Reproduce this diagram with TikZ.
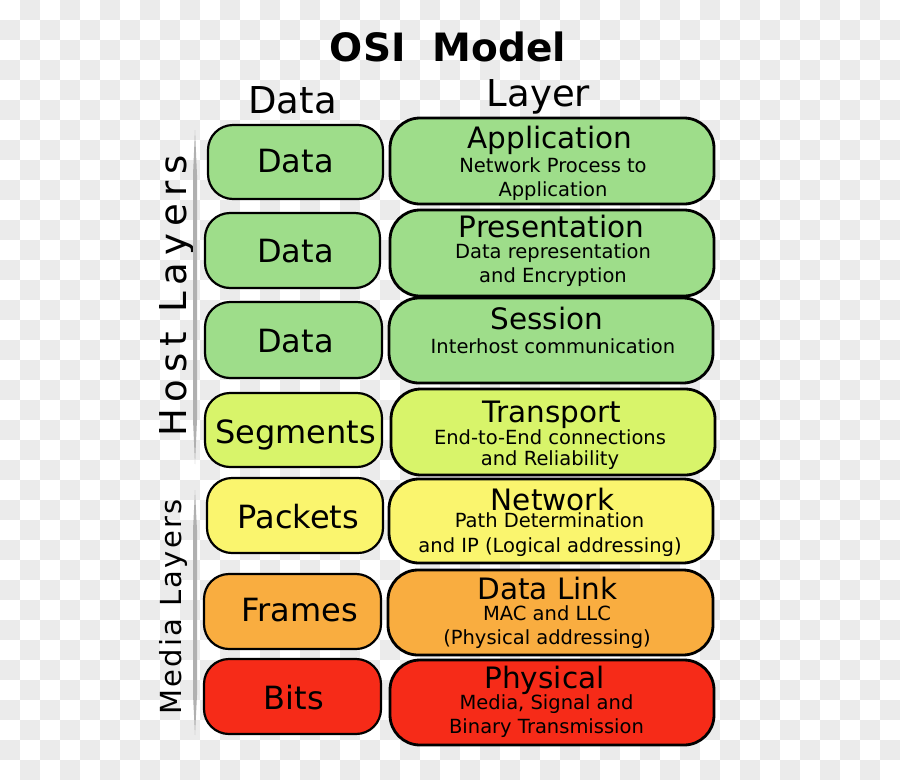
\documentclass[tikz,border=0pt]{standalone}
\usepackage{fontspec}
\setmainfont{DejaVu Sans}
\newfontfamily\spacedfont[LetterSpace=19]{DejaVu Sans}
\newfontfamily\spacedfontb[LetterSpace=8]{DejaVu Sans}
\definecolor{chk}{HTML}{EBEBEB}
\definecolor{cgreen}{HTML}{9EDD8A}
\definecolor{clime}{HTML}{D8F46A}
\definecolor{cyellow}{HTML}{FAF56E}
\definecolor{corange}{HTML}{F9AD40}
\definecolor{cred}{HTML}{F62B18}
\definecolor{barcol}{HTML}{B0B0B0}
\begin{document}
\begin{tikzpicture}[x=1pt,y=-1pt,
  lbox/.style={draw=black, line width=2.2pt, rounded corners=25pt, inner sep=0pt},
  rbox/.style={draw=black, line width=2.8pt, rounded corners=30pt, inner sep=0pt},
  ltxt/.style={anchor=base, inner sep=0pt, font=\fontsize{32}{36}\selectfont},
  ttl/.style={anchor=base, inner sep=0pt, font=\fontsize{29.5}{33}\selectfont},
  sub/.style={anchor=base, inner sep=0pt, font=\fontsize{19.5}{22}\selectfont},
  hdr/.style={anchor=base, inner sep=0pt, font=\fontsize{37}{40}\selectfont}]
\useasboundingbox (0,0) rectangle (900,780);
\fill[white] (0,0) rectangle (900,780);
\foreach \j in {0,2,...,38} { \foreach \i in {1,3,...,43} { \fill[chk] (\i*20,\j*20) rectangle ++(20,20); } }
\foreach \j in {1,3,...,37} { \foreach \i in {0,2,...,44} { \fill[chk] (\i*20,\j*20) rectangle ++(20,20); } }

% title and headers
\node[anchor=base, inner sep=0pt, font=\fontsize{39}{42}\selectfont\bfseries] (title) at (448,61) {OSI\ \ Model};
\node[hdr] (hdata) at (292.5,113) {Data};
\node[hdr] (hlayer) at (538.5,106) {Layer};

% side labels and bars
\node[anchor=base, inner sep=0pt, rotate=90, font=\fontsize{37}{40}\spacedfont] (host) at (186,296) {Host Layers};
\node[anchor=base, inner sep=0pt, rotate=90, font=\fontsize{29}{32}\spacedfontb] (media) at (181,607) {Media Layers};
\fill[barcol] (195,130) -- (197,175) -- (197,420) -- (195,464) -- (193,420) -- (193,175) -- cycle;
\fill[barcol] (195,490) -- (197,530) -- (197,695) -- (195,735) -- (193,695) -- (193,530) -- cycle;

% left boxes
\node[lbox, fill=cgreen, minimum width=175pt, minimum height=74pt] (l1) at (295.5,162) {};
\node[lbox, fill=cgreen, minimum width=175pt, minimum height=75pt] (l2) at (292.5,250.5) {};
\node[lbox, fill=cgreen, minimum width=177pt, minimum height=76pt] (l3) at (293.5,340) {};
\node[lbox, fill=clime, minimum width=177pt, minimum height=74pt] (l4) at (293.5,430) {};
\node[lbox, fill=cyellow, minimum width=176pt, minimum height=75pt] (l5) at (295,515.5) {};
\node[lbox, fill=corange, minimum width=177pt, minimum height=75pt] (l6) at (292.5,611.5) {};
\node[lbox, fill=cred, minimum width=177pt, minimum height=75pt] (l7) at (292.5,696.5) {};
\node[ltxt] (t1) at (295.5,172) {Data};
\node[ltxt] (t2) at (295.5,262) {Data};
\node[ltxt] (t3) at (295.5,352) {Data};
\node[ltxt] (t4) at (295.5,443) {Segments};
\node[ltxt] (t5) at (298.5,528) {Packets};
\node[ltxt] (t6) at (299.5,621) {Frames};
\node[ltxt] (t7) at (294,709) {Bits};

% right boxes
\node[rbox, fill=cgreen, minimum width=324pt, minimum height=86pt] (r1) at (552,161) {};
\node[rbox, fill=cgreen, minimum width=324pt, minimum height=86pt] (r2) at (552,253) {};
\node[rbox, fill=cgreen, minimum width=324pt, minimum height=85pt] (r3) at (551,340.5) {};
\node[rbox, fill=clime, minimum width=324pt, minimum height=86pt] (r4) at (553,432) {};
\node[rbox, fill=cyellow, minimum width=324pt, minimum height=84pt] (r5) at (551,521) {};
\node[rbox, fill=corange, minimum width=325pt, minimum height=85pt] (r6) at (550.5,612.5) {};
\node[rbox, fill=cred, minimum width=324pt, minimum height=85pt] (r7) at (552,702.5) {};

\node[ttl] (a1) at (550,148) {Application};
\node[sub] (a2) at (553,172) {Network Process to};
\node[sub] (a3) at (553,196) {Application};
\node[ttl] (p1) at (551.5,237) {Presentation};
\node[sub] (p2) at (553,258) {Data representation};
\node[sub] (p3) at (553,282) {and Encryption};
\node[ttl] (s1) at (547,329) {Session};
\node[sub] (s2) at (553,353) {Interhost communication};
\node[ttl] (tr1) at (552,422) {Transport};
\node[sub] (tr2) at (550,444) {End-to-End connections};
\node[sub] (tr3) at (550,465) {and Reliability};
\node[ttl] (n1) at (552.5,510) {Network};
\node[sub] (n2) at (549.5,527) {Path Determination};
\node[sub] (n3) at (550,552) {and IP (Logical addressing)};
\node[ttl] (d1) at (547.5,599) {Data Link};
\node[sub] (d2) at (547,620) {MAC and LLC};
\node[sub] (d3) at (547,644) {(Physical addressing)};
\node[ttl] (ph1) at (544.5,688) {Physical};
\node[sub] (ph2) at (546.5,709) {Media, Signal and};
\node[sub] (ph3) at (546.5,733) {Binary Transmission};
\end{tikzpicture}
\end{document}
